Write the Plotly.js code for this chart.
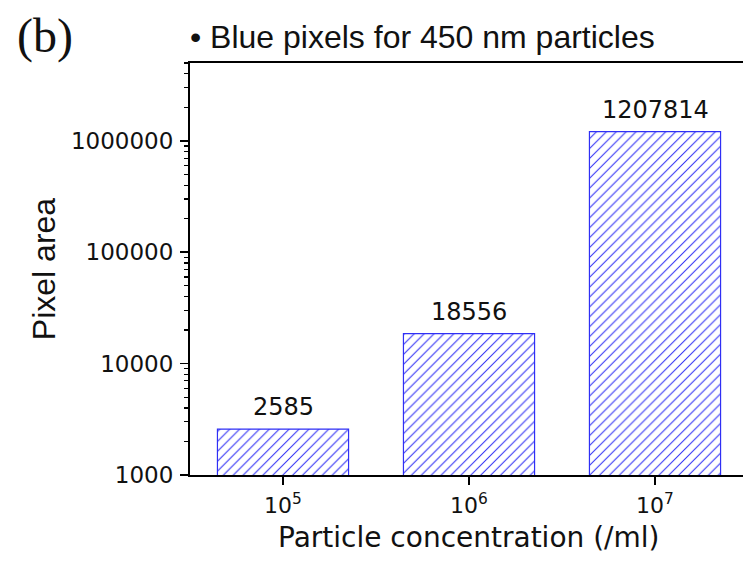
<!DOCTYPE html>
<html>
<head>
<meta charset="utf-8">
<script src="https://cdn.plot.ly/plotly-3.0.1.min.js"></script>
<style>
html,body{margin:0;padding:0;overflow:hidden;background:#fff;width:743px;height:569px;}
#chart{width:760px;height:569px;}
</style>
</head>
<body>
<div id="chart"></div>
<script>
// Data
var categories = ["10<sup>5</sup>", "10<sup>6</sup>", "10<sup>7</sup>"];
var pixelArea = [2585, 18556, 1207814];
var barLabels = ["2585", "18556", "1207814"];
var yTickVals = [1000, 10000, 100000, 1000000];
var yTickText = ["1000", "10000", "100000", "1000000"];
var xTitle = "Particle concentration (/ml)";

var blue = "#2f2ff5";
var trace = {
  type: "bar",
  x: categories,
  y: pixelArea,
  width: 0.705,
  marker: {
    color: "white",
    line: {color: blue, width: 1.2},
    pattern: {shape: "/", fgcolor: blue, bgcolor: "white", size: 7, solidity: 0.15}
  },
  hoverinfo: "skip"
};

var annotations = categories.map(function (c, i) {
  return {
    x: c, y: Math.log10(pixelArea[i]), xref: "x", yref: "y",
    text: barLabels[i], showarrow: false, yanchor: "bottom", yshift: 6,
    font: {family: "DejaVu Sans", size: 24, color: "#111"}
  };
});
annotations.push({
  xref: "paper", yref: "paper", x: -0.3136, y: 1.066, xanchor: "left", yanchor: "middle",
  text: "(b)", showarrow: false,
  font: {family: "Liberation Serif", size: 48, color: "#111"}
});
annotations.push({
  xref: "paper", yref: "paper", x: 0.5, y: -(537 - 475) / 412, xanchor: "center", yanchor: "middle",
  text: xTitle, showarrow: false,
  font: {family: "DejaVu Sans", size: 28, color: "#111"}
});

var layout = {
  width: 760, height: 569,
  margin: {l: 190, r: 12, t: 63, b: 94, pad: 0},
  paper_bgcolor: "white", plot_bgcolor: "white",
  showlegend: false,
  title: {
    text: "\u2022 Blue pixels for 450 nm particles",
    xref: "paper", x: 0, xanchor: "left",
    yref: "container", y: 1 - 37 / 569, yanchor: "middle",
    font: {family: "Liberation Sans", size: 32, color: "#111"}
  },
  xaxis: {
    type: "category",
    range: [-0.5, 2.5],
    showline: true, linecolor: "#000", linewidth: 2, mirror: true,
    ticks: "outside", ticklen: 8, tickwidth: 1.5, tickcolor: "#000",
    showgrid: false, zeroline: false,
    tickfont: {family: "DejaVu Sans", size: 22, color: "#111"},
    ticklabelstandoff: 2
  },
  yaxis: {
    type: "log",
    range: [3, Math.log10(5e6)],
    tickmode: "array", tickvals: yTickVals, ticktext: yTickText,
    showline: true, linecolor: "#000", linewidth: 2, mirror: true,
    ticks: "outside", ticklen: 8, tickwidth: 1.5, tickcolor: "#000",
    minor: {ticks: "outside", ticklen: 4.5, tickwidth: 1.2, tickcolor: "#000", tickmode: "linear", dtick: "D1", showgrid: false},
    showgrid: false, zeroline: false,
    tickfont: {family: "DejaVu Sans", size: 23, color: "#111"},
    ticklabelstandoff: 2,
    title: {text: "Pixel area", standoff: 6,
      font: {family: "Liberation Sans", size: 32, color: "#111"}}
  },
  annotations: annotations
};

Plotly.newPlot("chart", [trace], layout, {displayModeBar: false, staticPlot: true});
</script>
</body>
</html>
